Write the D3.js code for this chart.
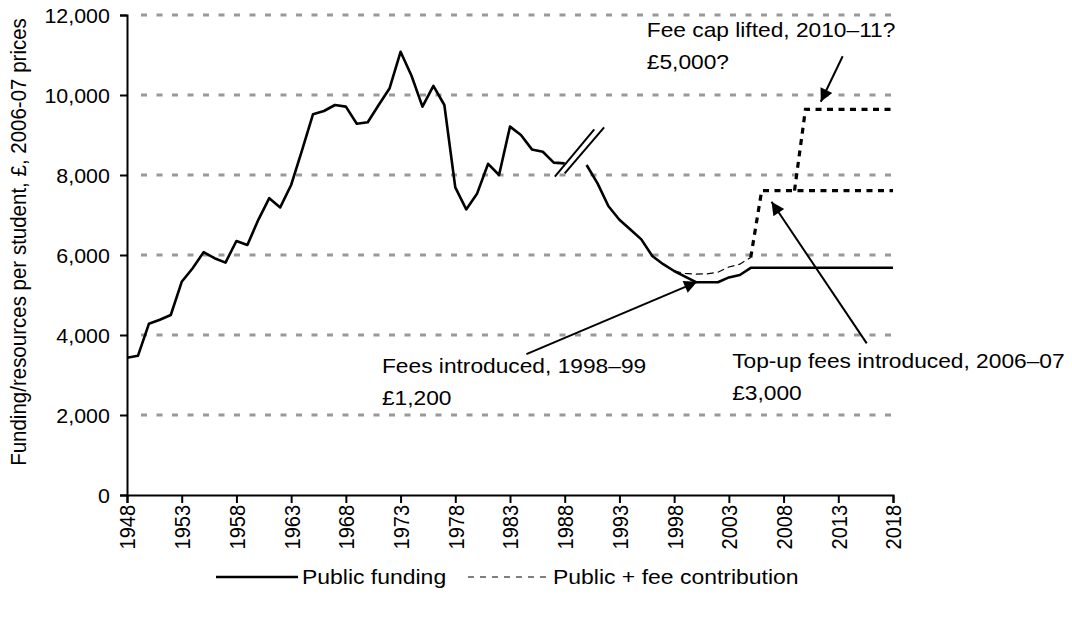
<!DOCTYPE html>
<html>
<head>
<meta charset="utf-8">
<script src="https://cdn.jsdelivr.net/npm/d3@7/dist/d3.min.js"></script>
<style>
  body { margin: 0; background: #fff; }
  svg text { font-family: "Liberation Sans", Arial, sans-serif; fill: #000; }
</style>
</head>
<body>
<div id="chart"></div>
<script>
// public funding per student, £ 2006-07 prices (null = break in series, 1989)
const years = d3.range(1948, 2019);
const publicFunding = [
  3430, 3480, 4280, 4380, 4500, 5330, 5670, 6070, 5920, 5810,
  6350, 6250, 6880, 7420, 7190, 7750, 8620, 9520, 9600, 9750,
  9710, 9280, 9320, 9750, 10170, 11080, 10480, 9710, 10230, 9750,
  7690, 7140, 7540, 8280, 8000, 9210, 9000, 8640, 8580, 8310,
  8290, null, 8250, 7790, 7220, 6880, 6640, 6390, 5975, 5770,
  5600, 5460, 5320, 5320, 5320, 5440, 5500, 5680, 5680, 5680,
  5680, 5680, 5680, 5680, 5680, 5680, 5680, 5680, 5680, 5680,
  5680
];

// public + fee contribution
const feeYears = [1998, 1999, 2000, 2001, 2002, 2003, 2004, 2005];
const publicPlusFee = [5600, 5540, 5520, 5530, 5570, 5700, 5770, 5940];

// projected resources (dotted)
const topUpYears = [2005, 2006, 2018];
const topUpValues = [5940, 7610, 7610];
const capYears = [2009, 2010, 2018];
const capValues = [7610, 9640, 9640];

const yTicks = [0, 2000, 4000, 6000, 8000, 10000, 12000];
const xTicks = [1948, 1953, 1958, 1963, 1968, 1973, 1978, 1983, 1988, 1993, 1998, 2003, 2008, 2013, 2018];

// annotations: text anchor and arrow (in data units)
const annoText = [
  { year: 1971.3, value: 3060, lines: ['Fees introduced, 1998\u201399', '\u00a31,200'] },
  { year: 2003.3, value: 3180, lines: ['Top-up fees introduced, 2006\u201307', '\u00a33,000'] },
  { year: 1995.5, value: 11450, lines: ['Fee cap lifted, 2010\u201311?', '\u00a35,000?'] }
];
const annoArrows = [
  { from: [1984.5, 3520], to: [2000.1, 5330] },
  { from: [2015.6, 3790], to: [2006.9, 7330] },
  { from: [2013.4, 10970], to: [2011.4, 9830] }
];
// break marks in the series around 1989
const breakMarks = [
  { from: [1987.1, 7960], to: [1990.7, 9140] },
  { from: [1988.0, 8040], to: [1991.6, 9190] }
];

const W = 1072, H = 618;
const FONT = '"Liberation Sans", Arial, sans-serif';

const svg = d3.select('#chart').append('svg')
  .attr('width', W)
  .attr('height', H);

const x = d3.scaleLinear().domain([1948, 2018]).range([127, 893]);
const y = d3.scaleLinear().domain([0, 12000]).range([495, 15]);

// grid lines
svg.append('g')
  .selectAll('line')
  .data(yTicks.filter(d => d > 0))
  .join('line')
  .attr('x1', x(1948) + 14)
  .attr('x2', x(2018))
  .attr('y1', d => y(d))
  .attr('y2', d => y(d))
  .attr('stroke', '#999')
  .attr('stroke-width', 3)
  .attr('stroke-dasharray', '6,9.5');

// y axis
const yAxis = svg.append('g')
  .attr('transform', `translate(${x(1948)},0)`)
  .call(d3.axisLeft(y).tickValues(yTicks).tickSize(7).tickFormat(d3.format(',')));
yAxis.select('.domain').attr('stroke-width', 2);
yAxis.selectAll('.tick line').attr('stroke-width', 2);
yAxis.selectAll('.tick text')
  .attr('font-size', 20)
  .attr('font-family', FONT)
  .attr('x', -16)
  .attr('dy', '0.36em')
  .attr('transform', 'scale(1.07,1)');

// x axis
const xAxis = svg.append('g')
  .attr('transform', `translate(0,${y(0)})`)
  .call(d3.axisBottom(x).tickValues(xTicks).tickSize(8).tickFormat(d3.format('d')));
xAxis.select('.domain').attr('stroke-width', 2);
xAxis.selectAll('.tick line').attr('stroke-width', 2);
xAxis.selectAll('.tick text')
  .attr('font-size', 20)
  .attr('font-family', FONT)
  .attr('text-anchor', 'end')
  .attr('x', -10)
  .attr('y', 0)
  .attr('dy', '0.36em')
  .attr('transform', 'scale(1.1,1) rotate(-90)');

// y axis title
svg.append('text')
  .attr('transform', 'translate(26,242) scale(1.08,1) rotate(-90)')
  .attr('text-anchor', 'middle')
  .attr('font-size', 20.5)
  .text('Funding/resources per student, \u00a3, 2006-07 prices');

// series
const line = d3.line()
  .defined(d => d[1] != null)
  .x(d => x(d[0]))
  .y(d => y(d[1]));

svg.append('path')
  .datum(years.map((yr, i) => [yr, publicFunding[i]]))
  .attr('fill', 'none')
  .attr('stroke', '#000')
  .attr('stroke-width', 2.6)
  .attr('stroke-linejoin', 'round')
  .attr('d', line);

svg.append('path')
  .datum(feeYears.map((yr, i) => [yr, publicPlusFee[i]]))
  .attr('fill', 'none')
  .attr('stroke', '#000')
  .attr('stroke-width', 1.2)
  .attr('stroke-dasharray', '7,4')
  .attr('d', line);

[[topUpYears, topUpValues], [capYears, capValues]].forEach(([ys, vs]) => {
  svg.append('path')
    .datum(ys.map((yr, i) => [yr, vs[i]]))
    .attr('fill', 'none')
    .attr('stroke', '#000')
    .attr('stroke-width', 3.2)
    .attr('stroke-dasharray', '6,5.5')
    .attr('d', line);
});

// break marks
svg.append('g')
  .selectAll('line')
  .data(breakMarks)
  .join('line')
  .attr('x1', d => x(d.from[0]))
  .attr('y1', d => y(d.from[1]))
  .attr('x2', d => x(d.to[0]))
  .attr('y2', d => y(d.to[1]))
  .attr('stroke', '#000')
  .attr('stroke-width', 2);

// arrows
svg.append('defs').append('marker')
  .attr('id', 'arrow')
  .attr('viewBox', '0 0 10 10')
  .attr('refX', 10)
  .attr('refY', 5)
  .attr('markerUnits', 'userSpaceOnUse')
  .attr('markerWidth', 17)
  .attr('markerHeight', 13)
  .attr('orient', 'auto')
  .append('path')
  .attr('d', 'M0,0 L10,5 L0,10 Z')
  .attr('fill', '#000');

svg.append('g')
  .selectAll('line')
  .data(annoArrows)
  .join('line')
  .attr('x1', d => x(d.from[0]))
  .attr('y1', d => y(d.from[1]))
  .attr('x2', d => x(d.to[0]))
  .attr('y2', d => y(d.to[1]))
  .attr('stroke', '#000')
  .attr('stroke-width', 2)
  .attr('marker-end', 'url(#arrow)');

// annotation text
annoText.forEach(a => {
  a.lines.forEach((t, i) => {
    svg.append('text')
      .attr('transform', `translate(${x(a.year)},${y(a.value) + i * 32}) scale(1.11,1)`)
      .attr('font-size', 20.5)
      .text(t);
  });
});

// legend
const legend = svg.append('g').attr('transform', 'translate(0,577)');
legend.append('line')
  .attr('x1', 216).attr('x2', 298)
  .attr('stroke', '#000').attr('stroke-width', 2.6);
legend.append('text')
  .attr('transform', 'translate(302,0) scale(1.12,1)')
  .attr('dy', '0.35em')
  .attr('font-size', 20.5)
  .text('Public funding');
legend.append('line')
  .attr('x1', 468).attr('x2', 549)
  .attr('stroke', '#000').attr('stroke-width', 1.2)
  .attr('stroke-dasharray', '6,6');
legend.append('text')
  .attr('transform', 'translate(553,0) scale(1.12,1)')
  .attr('dy', '0.35em')
  .attr('font-size', 20.5)
  .text('Public + fee contribution');
</script>
</body>
</html>
